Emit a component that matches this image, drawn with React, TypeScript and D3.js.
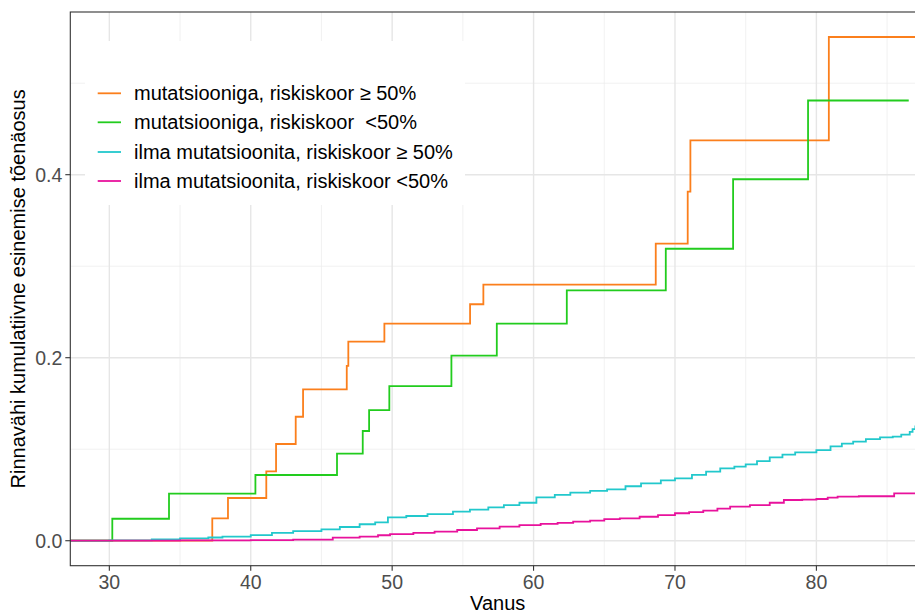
import * as d3 from 'd3'

// orange: mutatsiooniga, riskiskoor >= 50%
const orangeAge = [25, 37.28, 38.39, 41.1, 41.79, 43.18, 43.7, 46.79, 46.9, 49.45, 55.51, 56.45, 68.64, 70.9, 71.09, 80.88, 88]
const orangeProb = [0, 0.0245, 0.0467, 0.0758, 0.1057, 0.1355, 0.1655, 0.191, 0.2175, 0.2372, 0.2584, 0.2798, 0.3246, 0.3814, 0.4376, 0.5505, 0.5505]

// green: mutatsiooniga, riskiskoor < 50%
const greenAge = [25, 30.21, 34.22, 40.33, 46.1, 47.92, 48.37, 49.8, 54.19, 57.4, 62.35, 69.35, 74.11, 79.41, 86.53]
const greenProb = [0, 0.024, 0.0514, 0.0718, 0.0951, 0.1199, 0.1428, 0.169, 0.2022, 0.2372, 0.2736, 0.3191, 0.395, 0.4811, 0.4811]

// cyan: ilma mutatsioonita, riskiskoor >= 50%
const cyanAge = [25, 30, 33, 35, 37, 38, 40, 41.5, 43, 45, 46.3, 47.7, 48.8, 49.7, 51, 52.5, 54.3, 55.5, 56.8, 57.9, 59, 60.2, 61.5, 62.6, 64, 65.2, 66.5, 67.6, 69, 70, 71.2, 72.2, 73.2, 74.2, 75, 75.8, 76.7, 77.6, 78.5, 80, 81, 81.8, 82.6, 83.5, 84.5, 85.4, 86, 86.6, 86.8, 87, 88]
const cyanProb = [0, 0.0003, 0.0015, 0.0025, 0.0035, 0.0045, 0.0062, 0.0085, 0.0105, 0.0125, 0.015, 0.018, 0.02, 0.0256, 0.027, 0.029, 0.0317, 0.034, 0.0365, 0.039, 0.0415, 0.0474, 0.05, 0.0525, 0.0545, 0.0562, 0.0595, 0.0627, 0.066, 0.0682, 0.072, 0.0755, 0.0791, 0.081, 0.0835, 0.087, 0.0911, 0.094, 0.0965, 0.0991, 0.103, 0.106, 0.1082, 0.111, 0.113, 0.1137, 0.116, 0.119, 0.122, 0.125, 0.128]

// magenta: ilma mutatsioonita, riskiskoor < 50%
const magentaAge = [25, 35, 40, 43, 45.8, 47.7, 49, 49.85, 51.5, 53, 54.6, 56, 57.6, 59, 60.5, 61.7, 62.8, 64, 65, 66.1, 67.5, 68.8, 70, 71, 72, 73, 73.9, 75.3, 76.7, 77.7, 79, 80, 80.8, 81.5, 83, 85.5, 88]
const magentaProb = [0, 0.0003, 0.0006, 0.0012, 0.0033, 0.0044, 0.006, 0.0073, 0.0085, 0.01, 0.0117, 0.0135, 0.0153, 0.017, 0.0183, 0.0196, 0.0208, 0.022, 0.0235, 0.0245, 0.0262, 0.028, 0.03, 0.0312, 0.0328, 0.035, 0.0372, 0.039, 0.0415, 0.0445, 0.045, 0.0456, 0.047, 0.0481, 0.0486, 0.0518, 0.0518]

const seriesNames = [
  'mutatsiooniga, riskiskoor \u2265 50%',
  'mutatsiooniga, riskiskoor  <50%',
  'ilma mutatsioonita, riskiskoor \u2265 50%',
  'ilma mutatsioonita, riskiskoor <50%',
]
const seriesColors = ['#fb7f1c', '#22cc1e', '#22c8cc', '#e8129c']

const xMajor = [30, 40, 50, 60, 70, 80]
const xMinor = [35, 45, 55, 65, 75, 85]
const yMajor = [0, 0.2, 0.4]
const yMinor = [0.1, 0.3, 0.5]

const font = '"Liberation Sans", Arial, sans-serif'

export default function App() {
  const width = 915
  const height = 613
  const panel = { left: 70.3, right: 925, top: 12, bottom: 565.7 }

  const x = d3.scaleLinear().domain([27.24, 87.68]).range([panel.left, panel.right])
  const y = d3.scaleLinear().domain([-0.0273, 0.5778]).range([panel.bottom, panel.top])

  const line = d3
    .line<[number, number]>()
    .x((d) => x(d[0]))
    .y((d) => y(d[1]))
    .curve(d3.curveStepAfter)

  const series = [
    { age: orangeAge, prob: orangeProb },
    { age: greenAge, prob: greenProb },
    { age: cyanAge, prob: cyanProb },
    { age: magentaAge, prob: magentaProb },
  ].map((s, i) => ({
    name: seriesNames[i],
    color: seriesColors[i],
    points: s.age.map((a, j) => [a, s.prob[j]] as [number, number]),
  }))

  const legendRows = [93.3, 122.3, 152, 181]

  return (
    <>
      <style>{'body{margin:0}'}</style>
      <svg width={width} height={height} style={{ display: 'block', fontFamily: font }}>
        <defs>
          <clipPath id="panel-clip">
            <rect x={panel.left} y={panel.top} width={panel.right - panel.left} height={panel.bottom - panel.top} />
          </clipPath>
        </defs>
        <rect x={panel.left} y={panel.top} width={panel.right - panel.left} height={panel.bottom - panel.top} fill="#fff" />

        {/* grid */}
        {yMinor.map((v) => (
          <line key={'ym' + v} x1={panel.left} x2={panel.right} y1={y(v)} y2={y(v)} stroke="#ebebeb" strokeWidth={0.7} />
        ))}
        {xMinor.map((v) => (
          <line key={'xm' + v} x1={x(v)} x2={x(v)} y1={panel.top} y2={panel.bottom} stroke="#ebebeb" strokeWidth={0.7} />
        ))}
        {yMajor.map((v) => (
          <line key={'yM' + v} x1={panel.left} x2={panel.right} y1={y(v)} y2={y(v)} stroke="#e6e6e6" strokeWidth={1.4} />
        ))}
        {xMajor.map((v) => (
          <line key={'xM' + v} x1={x(v)} x2={x(v)} y1={panel.top} y2={panel.bottom} stroke="#e6e6e6" strokeWidth={1.4} />
        ))}

        {/* curves */}
        <g clipPath="url(#panel-clip)">
          {series.map((s) => (
            <path key={s.name} d={line(s.points) ?? ''} fill="none" stroke={s.color} strokeWidth={1.8} />
          ))}
        </g>

        {/* legend */}
        <rect x={85} y={41} width={380} height={164} fill="#fff" />
        {series.map((s, i) => (
          <g key={'lg' + i}>
            <line x1={97.7} x2={121} y1={legendRows[i]} y2={legendRows[i]} stroke={s.color} strokeWidth={1.8} />
            <text x={134} y={legendRows[i]} dy="0.35em" fontSize={20} fill="#000" style={{ whiteSpace: 'pre' }}>
              {s.name}
            </text>
          </g>
        ))}

        {/* panel border */}
        <rect
          x={panel.left}
          y={panel.top}
          width={panel.right - panel.left}
          height={panel.bottom - panel.top}
          fill="none"
          stroke="#333"
          strokeWidth={1.1}
        />

        {/* axes ticks */}
        {xMajor.map((v) => (
          <g key={'xt' + v}>
            <line x1={x(v)} x2={x(v)} y1={panel.bottom} y2={panel.bottom + 5} stroke="#333" strokeWidth={1.1} />
            <text x={x(v)} y={panel.bottom + 23} textAnchor="middle" fontSize={19.5} fill="#4d4d4d">
              {v}
            </text>
          </g>
        ))}
        {yMajor.map((v) => (
          <g key={'yt' + v}>
            <line x1={panel.left - 5} x2={panel.left} y1={y(v)} y2={y(v)} stroke="#333" strokeWidth={1.1} />
            <text x={panel.left - 8} y={y(v)} dy="0.35em" textAnchor="end" fontSize={19.5} fill="#4d4d4d">
              {d3.format('.1f')(v)}
            </text>
          </g>
        ))}

        {/* axis titles */}
        <text x={(panel.left + panel.right) / 2} y={610} textAnchor="middle" fontSize={20} fill="#000">
          Vanus
        </text>
        <text
          transform={`translate(25,${(panel.top + panel.bottom) / 2}) rotate(-90)`}
          textAnchor="middle"
          fontSize={20}
          fill="#000"
        >
          Rinnavähi kumulatiivne esinemise tõenäosus
        </text>
      </svg>
    </>
  )
}
